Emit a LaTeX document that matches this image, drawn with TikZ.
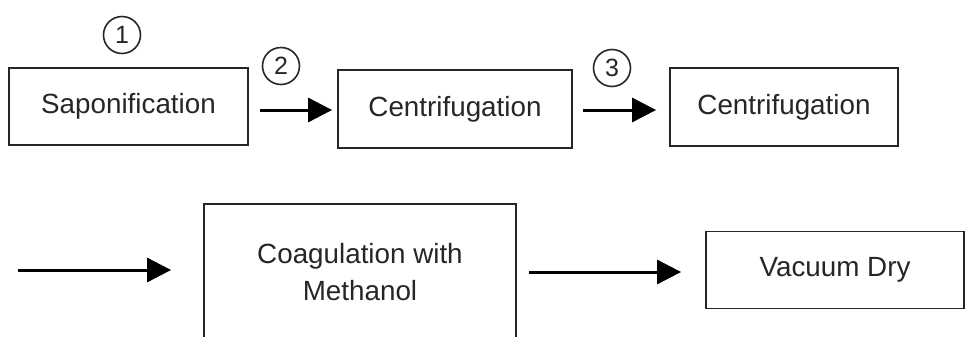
\documentclass[tikz,border=0pt]{standalone}
\usepackage{fontspec}
\setmainfont{Liberation Sans}
\usetikzlibrary{arrows.meta}
\definecolor{ink}{HTML}{262626}
\begin{document}
\begin{tikzpicture}[x=1pt,y=-1pt,
  stepbox/.style={draw=ink,line width=1.8pt,rectangle,inner sep=0pt,
    font=\fontsize{27.8}{32}\selectfont,text=ink},
  num/.style={draw=ink,line width=1.6pt,circle,minimum size=37pt,inner sep=0pt,
    font=\fontsize{25}{27}\selectfont,text=ink},
  flow/.style={line width=3pt,black,-{Triangle[length=24pt,width=24pt]}}]
\clip (0,0) rectangle (967,337);

% first row
\node[stepbox,minimum width=239pt,minimum height=77pt] (sap)  at (128.5,106.5) {Saponification};
\node[stepbox,minimum width=234pt,minimum height=78pt] (cen1) at (455,109)   {Centrifugation};
\node[stepbox,minimum width=228pt,minimum height=78pt] (cen2) at (784,107)   {Centrifugation};

\node[num] (n1) at (122,35) {1};
\node[num] (n2) at (281,66) {2};
\node[num] (n3) at (612,68) {3};

\draw[flow] ([xshift=11pt]sap.east |- 0,110) -- ([xshift=-5pt]cen1.west |- 0,110);
\draw[flow] ([xshift=10pt]cen1.east |- 0,110) -- ([xshift=-13pt]cen2.west |- 0,110);

% second row
\coordinate (feed) at (18,270);
\node[stepbox,minimum width=312pt,minimum height=180pt,anchor=north] (coag) at (360,203) {};
\node[align=center,text=ink,font=\fontsize{27.8}{32}\selectfont] (coagtxt) at (360,272)
  {Coagulation with\\[5pt]Methanol};
\node[stepbox,minimum width=258pt,minimum height=77pt] (vac) at (835,270) {Vacuum Dry};

\draw[flow] (feed) -- ([xshift=-32pt]coag.west |- feed);
\draw[flow] ([xshift=12pt]coag.east |- 0,272) -- ([xshift=-24pt]vac.west |- 0,272);
\end{tikzpicture}
\end{document}
